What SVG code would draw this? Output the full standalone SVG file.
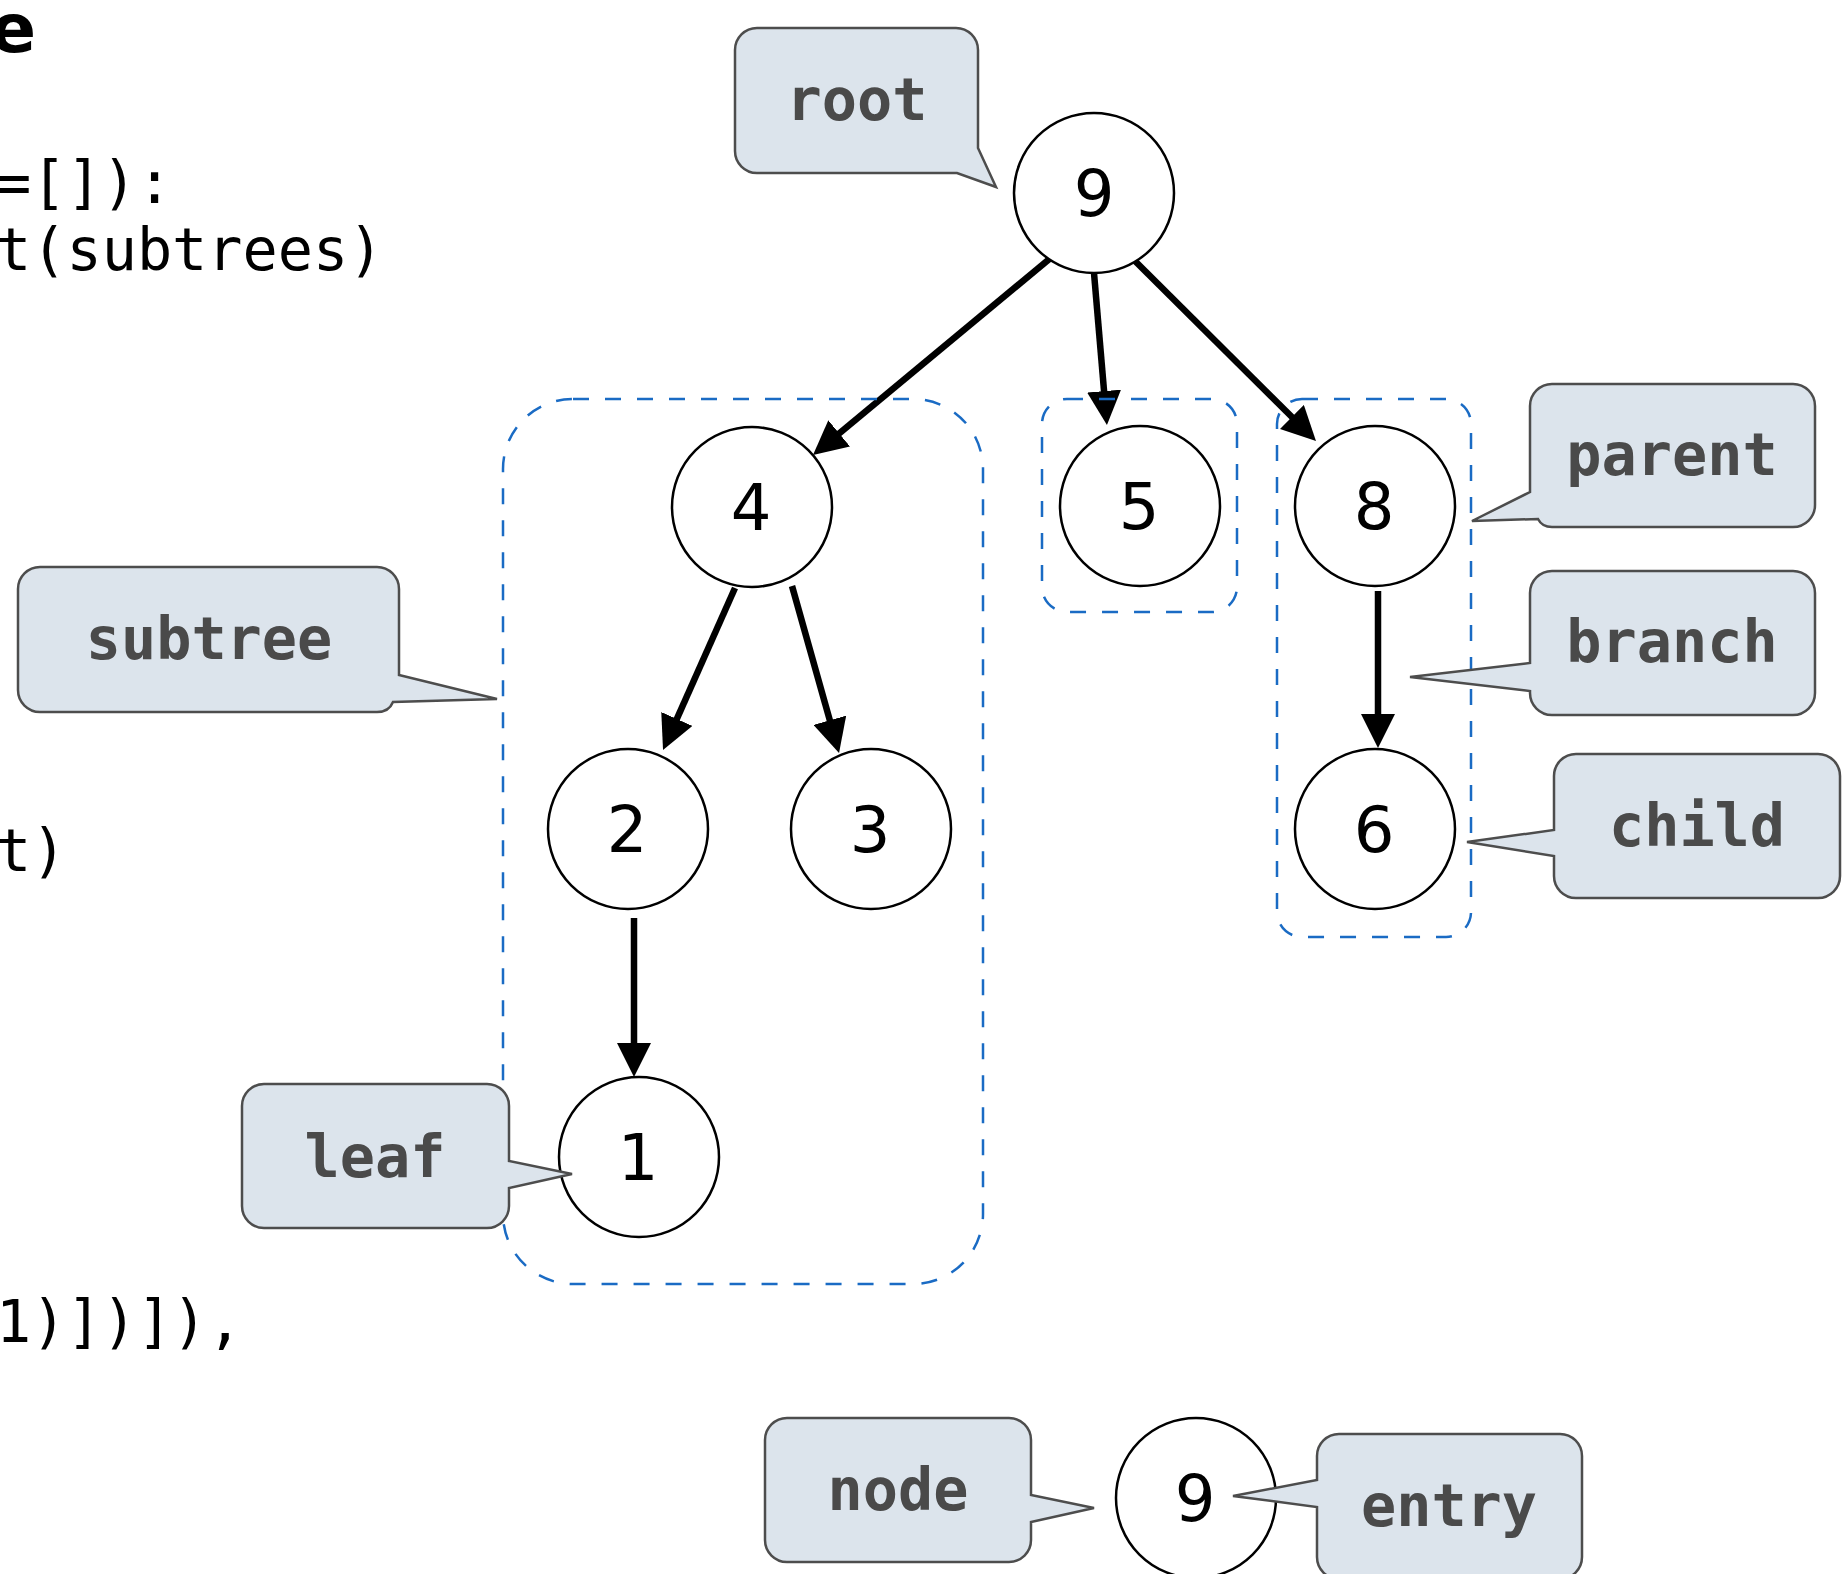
<svg xmlns="http://www.w3.org/2000/svg" width="1845" height="1574" viewBox="0 0 1845 1574">
  <defs>
    <style>
      .code { font-family: "DejaVu Sans Mono", "Liberation Mono", monospace; font-size: 58.5px; fill: #000; }
      .title { font-family: "DejaVu Sans", "Liberation Sans", sans-serif; font-weight: bold; font-size: 68px; fill: #000; }
      .node circle { fill: #fff; stroke: #000; stroke-width: 2.5; }
      .node text { font-family: "DejaVu Sans", "Liberation Sans", sans-serif; font-size: 64px; fill: #000; text-anchor: middle; }
      .edge { stroke: #000; stroke-width: 6.5; fill: none; marker-end: url(#head); }
      .group { fill: none; stroke: #1a6bc4; stroke-width: 2.5; stroke-dasharray: 16 16; }
      .callout path { fill: #dce4ec; stroke: #4d4d4d; stroke-width: 2.5; stroke-linejoin: miter; }
      .callout text { font-family: "DejaVu Sans Mono", "Liberation Mono", monospace; font-weight: bold; font-size: 58.5px; fill: #4a4a4a; text-anchor: middle; }
    </style>
    <marker id="head" markerUnits="userSpaceOnUse" viewBox="0 0 34 34" markerWidth="34" markerHeight="34" refX="4" refY="17" orient="auto">
      <path d="M0,0 L34,17 L0,34 Z" fill="#000"/>
    </marker>
  </defs>

  <rect width="1845" height="1574" fill="#fff"/>

  <!-- code listing, cut at the left edge -->
  <g id="code">
    <text class="title" x="-10" y="52">e</text>
    <text class="code" x="-4" y="203">=[]):</text>
    <text class="code" x="-4" y="270">t(subtrees)</text>
    <text class="code" x="-4" y="871">t)</text>
    <text class="code" x="-4" y="1342">1)])]),</text>
  </g>

  <!-- tree edges -->
  <g id="connectors">
    <line class="edge" x1="1053" y1="256" x2="836.1" y2="435.9"/>
    <line class="edge" x1="1094" y1="273" x2="1104.4" y2="395.1"/>
    <line class="edge" x1="1135" y1="261" x2="1294.7" y2="419.8"/>
    <line class="edge" x1="735" y1="588" x2="675.2" y2="722.6"/>
    <line class="edge" x1="792" y1="586" x2="830.9" y2="724.1"/>
    <line class="edge" x1="1378" y1="591" x2="1378" y2="718"/>
    <line class="edge" x1="634" y1="918" x2="634" y2="1047"/>
  </g>

  <!-- tree nodes -->
  <g id="node-9" class="node"><circle cx="1094" cy="193" r="80"/><text x="1094" y="216">9</text></g>
  <g id="node-4" class="node"><circle cx="752" cy="507" r="80"/><text x="751" y="530">4</text></g>
  <g id="node-5" class="node"><circle cx="1140" cy="506" r="80"/><text x="1139" y="529">5</text></g>
  <g id="node-8" class="node"><circle cx="1375" cy="506" r="80"/><text x="1374" y="529">8</text></g>
  <g id="node-2" class="node"><circle cx="628" cy="829" r="80"/><text x="627" y="852">2</text></g>
  <g id="node-3" class="node"><circle cx="871" cy="829" r="80"/><text x="870" y="852">3</text></g>
  <g id="node-6" class="node"><circle cx="1375" cy="829" r="80"/><text x="1374" y="852">6</text></g>
  <g id="node-1" class="node"><circle cx="639" cy="1157" r="80"/><text x="638" y="1180">1</text></g>
  <g id="node-single" class="node"><circle cx="1196" cy="1498" r="80"/><text x="1195" y="1521">9</text></g>

  <!-- dashed subtree outlines -->
  <g id="subtree-outlines">
    <rect class="group" x="503" y="399" width="480" height="885" rx="70"/>
    <rect class="group" x="1042" y="399" width="195" height="213" rx="25"/>
    <rect class="group" x="1277" y="399" width="194" height="538" rx="25"/>
  </g>

  <!-- speech-bubble labels -->
  <g id="label-root" class="callout">
    <path d="M757,28 H956 A22,22 0 0 1 978,50 V148 L996,187 L957,173 H757 A22,22 0 0 1 735,151 V50 A22,22 0 0 1 757,28 Z"/>
    <text x="857" y="120">root</text>
  </g>
  <g id="label-subtree" class="callout">
    <path d="M40,567 H377 A22,22 0 0 1 399,589 V675 L497,699 L393,702 Q389,712 377,712 H40 A22,22 0 0 1 18,690 V589 A22,22 0 0 1 40,567 Z"/>
    <text x="209" y="659">subtree</text>
  </g>
  <g id="label-parent" class="callout">
    <path d="M1552,384 H1793 A22,22 0 0 1 1815,406 V505 A22,22 0 0 1 1793,527 H1552 Q1542,527 1538,519 L1472,521 L1530,492 V406 A22,22 0 0 1 1552,384 Z"/>
    <text x="1672" y="475">parent</text>
  </g>
  <g id="label-branch" class="callout">
    <path d="M1552,571 H1793 A22,22 0 0 1 1815,593 V693 A22,22 0 0 1 1793,715 H1552 A22,22 0 0 1 1530,693 V691 L1410,677 L1530,663 V593 A22,22 0 0 1 1552,571 Z"/>
    <text x="1672" y="662">branch</text>
  </g>
  <g id="label-child" class="callout">
    <path d="M1576,754 H1818 A22,22 0 0 1 1840,776 V876 A22,22 0 0 1 1818,898 H1576 A22,22 0 0 1 1554,876 V856 L1467,842 L1554,830 V776 A22,22 0 0 1 1576,754 Z"/>
    <text x="1697" y="846">child</text>
  </g>
  <g id="label-leaf" class="callout">
    <path d="M264,1084 H487 A22,22 0 0 1 509,1106 V1161 L572,1174 L509,1188 V1206 A22,22 0 0 1 487,1228 H264 A22,22 0 0 1 242,1206 V1106 A22,22 0 0 1 264,1084 Z"/>
    <text x="375" y="1177">leaf</text>
  </g>
  <g id="label-node" class="callout">
    <path d="M787,1418 H1009 A22,22 0 0 1 1031,1440 V1495 L1094,1508 L1031,1522 V1540 A22,22 0 0 1 1009,1562 H787 A22,22 0 0 1 765,1540 V1440 A22,22 0 0 1 787,1418 Z"/>
    <text x="898" y="1510">node</text>
  </g>
  <g id="label-entry" class="callout">
    <path d="M1339,1434 H1560 A22,22 0 0 1 1582,1456 V1557 A22,22 0 0 1 1560,1579 H1339 A22,22 0 0 1 1317,1557 V1507 L1233,1496 L1317,1480 V1456 A22,22 0 0 1 1339,1434 Z"/>
    <text x="1449" y="1526">entry</text>
  </g>
</svg>
